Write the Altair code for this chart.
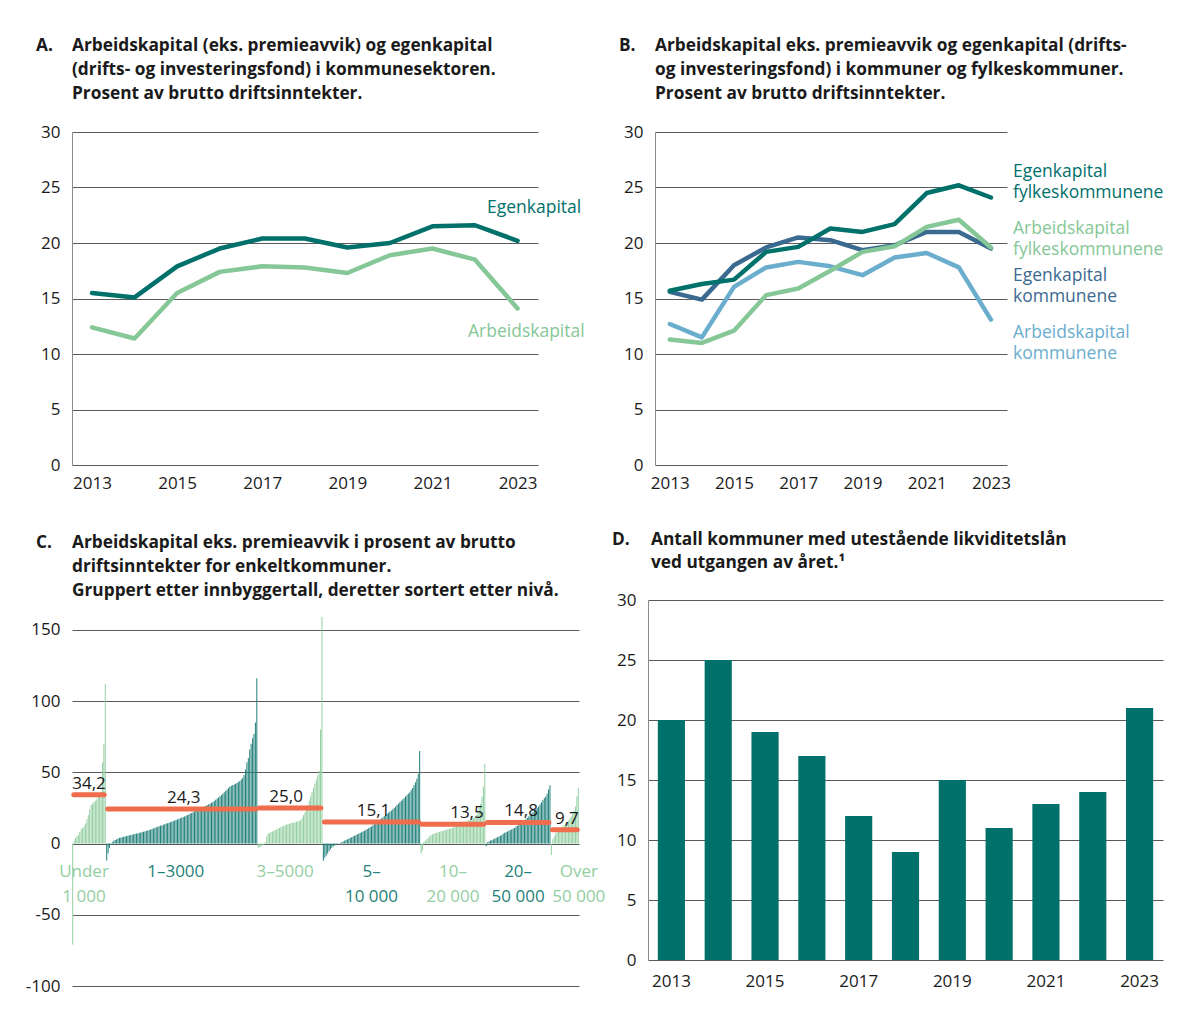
import altair as alt
import pandas as pd

# ---------------- data ----------------
years = list(range(2013, 2024))

# Panel A
a_egenkapital = [15.5, 15.1, 17.9, 19.5, 20.4, 20.4, 19.6, 20.0, 21.5, 21.6, 20.2]
a_arbeidskapital = [12.4, 11.4, 15.5, 17.4, 17.9, 17.8, 17.3, 18.9, 19.5, 18.5, 14.1]

# Panel B
b_egen_fylke = [15.7, 16.3, 16.7, 19.2, 19.65, 21.3, 21.0, 21.7, 24.5, 25.2, 24.1]
b_egen_komm = [15.6, 14.9, 18.0, 19.6, 20.5, 20.25, 19.35, 19.8, 21.0, 21.0, 19.5]
b_arb_fylke = [11.3, 11.0, 12.1, 15.3, 15.9, 17.5, 19.2, 19.7, 21.45, 22.1, 19.6]
b_arb_komm = [12.7, 11.5, 16.05, 17.8, 18.3, 17.9, 17.1, 18.7, 19.1, 17.8, 13.1]

# Panel C (one value per municipality, grouped by population, sorted)
c_under_1000 = [-71, 2, 4, 5, 6, 8, 10, 11, 12, 14, 17, 20, 24, 27, 28, 29, 30, 31,
                33, 34, 36, 57, 70, 112]
c_1_3000 = [-12, -7, -3, -1, 1, 2, 2.5, 3, 3.5, 4, 4.2, 4.5, 4.8, 5, 5.2, 5.5, 5.8, 6,
            6.2, 6.5, 6.8, 7, 7.2, 7.5, 7.8, 8, 8.3, 8.6, 8.9, 9.2, 9.5, 9.8, 10.2, 10.6,
            11, 11.4, 11.8, 12.2, 12.5, 12.8, 13.2, 13.6, 14, 14.3, 14.6, 15, 15.4, 15.8,
            16.2, 16.6, 17, 17.4, 17.8, 18.2, 18.6, 19, 19.5, 20, 20.5, 21, 21.5, 22, 22.6,
            23.2, 23.8, 24.2, 24.6, 25, 25.5, 26, 26.5, 27, 27.5, 28, 28.6, 29.2, 30, 30.8,
            31.6, 32.4, 33.2, 34, 35, 36, 37, 38, 39, 40, 40.5, 41, 41.5, 42, 42.5, 43.2, 44,
            45, 46, 48, 52, 57, 60, 66, 70, 74, 77, 85, 116]
c_3_5000 = [-3, -2.5, -2, -1.5, -1, 1, 5, 7, 7.5, 8, 8.5, 9, 9.5, 10, 10.5, 11, 11.5, 12,
            12.5, 13, 13.3, 13.6, 14, 14.2, 14.5, 14.8, 15, 15.3, 15.6, 16, 16.5, 18, 20,
            22, 24, 27, 30, 33, 36, 39, 42, 45, 48, 51, 80, 159]
c_5_10000 = [-12, -10, -8.5, -7, -5.5, -4, -3, -2, -1.5, -1, -0.5, 0, 0.5, 1, 1.5, 2, 2.5,
             3, 3.5, 4, 4.5, 5, 5.5, 6, 6.5, 7, 7.5, 8, 8.5, 9, 9.6, 10.2, 10.8, 11.4, 12,
             12.8, 13.6, 14.4, 15.2, 16, 16.8, 17.6, 18.4, 19.2, 20, 20.8, 21.6, 22.4, 23.2,
             24, 25, 26, 27, 28, 29, 30, 31, 32, 33, 34, 35, 36, 37.5, 39, 41, 43, 45.5, 49, 65]
c_10_20000 = [-7, -5, 1, 2, 3, 4, 5, 6, 6.5, 7, 7.3, 7.6, 7.9, 8.2, 8.5, 8.8, 9.1, 9.4, 9.7,
              10, 10.3, 10.6, 11, 11.4, 11.8, 12.2, 12.6, 13, 13.5, 14, 14.5, 15, 15.5, 16,
              16.5, 17, 17.5, 18, 18.8, 20, 22, 25, 28, 33, 40, 56]
c_20_50000 = [-2, 1, 1.5, 2, 2.5, 3, 3.5, 4, 4.5, 5, 5.5, 6, 7, 7.5, 8, 8.5, 9, 9.5, 10,
              10.5, 11, 12, 12.5, 13, 14, 15, 15.5, 16, 17, 18, 19, 20, 21, 22, 23, 24, 25,
              26, 27.5, 29, 30.5, 32, 33, 35, 38, 41]
c_over_50000 = [-8, 3, 5, 7, 8, 9, 10, 11, 12, 13, 14, 15, 16, 17.5, 19, 21, 23, 26, 33, 39]

c_groups = [c_under_1000, c_1_3000, c_3_5000, c_5_10000, c_10_20000, c_20_50000, c_over_50000]
c_group_labels = ["Under\n1 000", "1–3000", "3–5000", "5–\n10 000", "10–\n20 000",
                  "20–\n50 000", "Over\n50 000"]
c_averages = [34.2, 24.3, 25.0, 15.1, 13.5, 14.8, 9.7]
c_average_labels = ["34,2", "24,3", "25,0", "15,1", "13,5", "14,8", "9,7"]

# Panel D
d_counts = [20, 25, 19, 17, 12, 9, 15, 11, 13, 14, 21]

# ---------------- style ----------------
FONT = "Open Sans"
INK = "#1a1a1a"
TEAL = "#00706b"
LGREEN = "#86c797"
DBLUE = "#3b6a91"
LBLUE = "#6aadcd"
ORANGE = "#ef6c4c"
GRID = "#5a5a5a"
DOMAIN = "#8c8c8c"
BAR_LIGHT = "#93cea1"
BAR_DARK = "#1f7f79"

W_A, W_B, W_C, W_D = 466, 352, 507, 515
H_TOP, H_C, H_D = 333, 386, 360

TITLE_SIZE = 17.3
LABEL_SIZE = 17
SERIES_SIZE = 17.5
AXIS_SIZE = 17

one = pd.DataFrame({"k": [0]})


def txt(text, x, y, size=LABEL_SIZE, weight="normal", color=INK, align="left",
        baseline="alphabetic", lh=24):
    return alt.Chart(one).mark_text(
        font=FONT, fontSize=size, fontWeight=weight, color=color, align=align,
        baseline=baseline, lineHeight=lh, lineBreak="\n"
    ).encode(x=alt.value(x), y=alt.value(y), text=alt.value(text))


def title_block(letter, lines, y0):
    return [
        txt(letter, -36, y0, size=TITLE_SIZE, weight="bold"),
        txt("\n".join(lines), 0, y0, size=TITLE_SIZE, weight="bold"),
    ]


def y_axis(vals, domain=True):
    return alt.Axis(values=vals, title=None, grid=True, gridColor=GRID, gridWidth=1,
                    domain=domain, domainColor=DOMAIN, domainWidth=1, ticks=False,
                    labelPadding=12, labelFontSize=AXIS_SIZE, labelFont=FONT,
                    labelColor=INK, labelExpr="'' + datum.value")


def x_year_axis():
    return alt.Axis(values=[2013, 2015, 2017, 2019, 2021, 2023], title=None, grid=False,
                    domain=False, ticks=False, labelPadding=10, labelFontSize=AXIS_SIZE,
                    labelFont=FONT, labelColor=INK, format="d", labelFlush=False,
                    labelOverlap=False)


def line_layer(values, color, domain_x, axis_on=False):
    df = pd.DataFrame({"year": years, "val": values})
    if axis_on:
        xe = alt.X("year:Q", scale=alt.Scale(domain=domain_x, nice=False, zero=False),
                   axis=x_year_axis())
        ye = alt.Y("val:Q", scale=alt.Scale(domain=[0, 30], nice=False),
                   axis=y_axis([0, 5, 10, 15, 20, 25, 30]))
    else:
        xe = alt.X("year:Q", scale=alt.Scale(domain=domain_x, nice=False, zero=False))
        ye = alt.Y("val:Q", scale=alt.Scale(domain=[0, 30], nice=False))
    return alt.Chart(df).mark_line(color=color, strokeWidth=4.5, strokeJoin="round",
                                   strokeCap="round").encode(x=xe, y=ye)


# ---------------- Panel A ----------------
dom_a = [2012.53, 2023.48]
panel_a = alt.layer(
    line_layer(a_arbeidskapital, LGREEN, dom_a, axis_on=True),
    line_layer(a_egenkapital, TEAL, dom_a),
    txt("Egenkapital", 415, 76, size=SERIES_SIZE, color=TEAL, baseline="middle"),
    txt("Arbeidskapital", 396, 200, size=SERIES_SIZE, color=LGREEN, baseline="middle"),
    *title_block("A.", ["Arbeidskapital (eks. premieavvik) og egenkapital",
                        "(drifts- og investeringsfond) i kommunesektoren.",
                        "Prosent av brutto driftsinntekter."], -81),
).properties(width=W_A, height=H_TOP)

# ---------------- Panel B ----------------
dom_b = [2012.54, 2023.5]
B_LH = 21
panel_b = alt.layer(
    line_layer(b_arb_komm, LBLUE, dom_b, axis_on=True),
    line_layer(b_egen_komm, DBLUE, dom_b),
    line_layer(b_arb_fylke, LGREEN, dom_b),
    line_layer(b_egen_fylke, TEAL, dom_b),
    txt("Egenkapital\nfylkeskommunene", 358, 40, size=SERIES_SIZE, color=TEAL,
        baseline="middle", lh=B_LH),
    txt("Arbeidskapital\nfylkeskommunene", 358, 97, size=SERIES_SIZE, color=LGREEN,
        baseline="middle", lh=B_LH),
    txt("Egenkapital\nkommunene", 358, 144, size=SERIES_SIZE, color=DBLUE,
        baseline="middle", lh=B_LH),
    txt("Arbeidskapital\nkommunene", 358, 201, size=SERIES_SIZE, color=LBLUE,
        baseline="middle", lh=B_LH),
    *title_block("B.", ["Arbeidskapital eks. premieavvik og egenkapital (drifts-",
                        "og investeringsfond) i kommuner og fylkeskommuner.",
                        "Prosent av brutto driftsinntekter."], -81),
).properties(width=W_B, height=H_TOP)

# ---------------- Panel C ----------------
rows, starts, ends = [], [], []
i = 0
for gi, vals in enumerate(c_groups):
    starts.append(i)
    for v in vals:
        rows.append({"idx": i, "val": v, "kind": "light" if gi % 2 == 0 else "dark"})
        i += 1
    ends.append(i - 1)
N = i
df_c = pd.DataFrame(rows)

px_per_idx = W_C / N
avg_label_dx = [0, 2, -4, 2, 14, 3, 2]      # pixel nudges for the average labels
group_label_dx = [-5, -6, -5, 0, 0, 0, 14]  # pixel nudges for the group labels

df_avg = pd.DataFrame({
    "x0": [s - 0.5 + 1.8 / px_per_idx for s in starts],
    "x1": [e + 0.5 - 1.8 / px_per_idx for e in ends],
    "avg": c_averages,
    "lab": c_average_labels,
    "lx": [(s + e) / 2 + d / px_per_idx for s, e, d in zip(starts, ends, avg_label_dx)],
})
df_glab = pd.DataFrame({
    "gx": [(s + e) / 2 + d / px_per_idx for s, e, d in zip(starts, ends, group_label_dx)],
    "lab": c_group_labels,
    "kind": ["light" if g % 2 == 0 else "dark" for g in range(len(c_groups))],
})

xs_c = alt.Scale(domain=[-0.5, N - 0.5], nice=False, zero=False)
ys_c = alt.Scale(domain=[-100, 171], nice=False, zero=False)

bars_c = alt.Chart(df_c).mark_rule(strokeWidth=1.0).encode(
    x=alt.X("idx:Q", scale=xs_c, axis=None),
    y=alt.Y("val:Q", scale=ys_c, axis=y_axis([-100, -50, 0, 50, 100, 150], domain=False)),
    y2=alt.datum(0),
    color=alt.Color("kind:N", scale=alt.Scale(domain=["light", "dark"],
                                              range=[BAR_LIGHT, BAR_DARK]), legend=None),
)
avg_c = alt.Chart(df_avg).mark_rule(color=ORANGE, strokeWidth=5, strokeCap="round").encode(
    x=alt.X("x0:Q", scale=xs_c, axis=None), x2="x1:Q",
    y=alt.Y("avg:Q", scale=ys_c),
)
avg_lab_c = alt.Chart(df_avg).mark_text(font=FONT, fontSize=LABEL_SIZE, color=INK,
                                        baseline="alphabetic", dy=-6).encode(
    x=alt.X("lx:Q", scale=xs_c, axis=None),
    y=alt.Y("avg:Q", scale=ys_c),
    text="lab:N",
)
grp_lab_c = alt.Chart(df_glab).mark_text(font=FONT, fontSize=LABEL_SIZE, baseline="alphabetic",
                                         lineBreak="\n", lineHeight=25).encode(
    x=alt.X("gx:Q", scale=xs_c, axis=None),
    y=alt.value(277),
    text="lab:N",
    color=alt.Color("kind:N", scale=alt.Scale(domain=["light", "dark"],
                                              range=["#7dbf8d", "#0b7a74"]), legend=None),
)
panel_c = alt.layer(
    bars_c, avg_c, avg_lab_c, grp_lab_c,
    *title_block("C.", ["Arbeidskapital eks. premieavvik i prosent av brutto",
                        "driftsinntekter for enkeltkommuner.",
                        "Gruppert etter innbyggertall, deretter sortert etter nivå."], -52),
).properties(width=W_C, height=H_C)

# ---------------- Panel D ----------------
df_d = pd.DataFrame({"year": years, "n": d_counts})
bars_d = alt.Chart(df_d).mark_bar(color=TEAL).encode(
    x=alt.X("year:O", scale=alt.Scale(paddingInner=0.42, paddingOuter=0.21),
            axis=alt.Axis(values=[2013, 2015, 2017, 2019, 2021, 2023], title=None,
                          labelAngle=0, grid=False, domain=False, ticks=False,
                          labelPadding=13, labelFontSize=AXIS_SIZE, labelFont=FONT,
                          labelColor=INK)),
    y=alt.Y("n:Q", scale=alt.Scale(domain=[0, 30], nice=False),
            axis=y_axis([0, 5, 10, 15, 20, 25, 30])),
)
panel_d = alt.layer(
    bars_d,
    txt("D.", -36, -55, size=TITLE_SIZE, weight="bold"),
    txt("Antall kommuner med utestående likviditetslån\nved utgangen av året.¹", 3, -55,
        size=TITLE_SIZE, weight="bold", lh=23),
).properties(width=W_D, height=H_D)

# ---------------- layout ----------------
top = alt.hconcat(panel_a, panel_b, spacing=117, bounds="flush")
bottom = alt.hconcat(panel_c, panel_d, spacing=69, bounds="flush")
chart = alt.vconcat(top, bottom, spacing=40).properties(
    padding={"left": 17, "top": 29, "right": 10, "bottom": 10}
).configure(
    font=FONT, view=alt.ViewConfig(stroke="transparent", strokeWidth=0)
)

chart.save("out.html", embed_options={"renderer": "svg", "actions": False})
